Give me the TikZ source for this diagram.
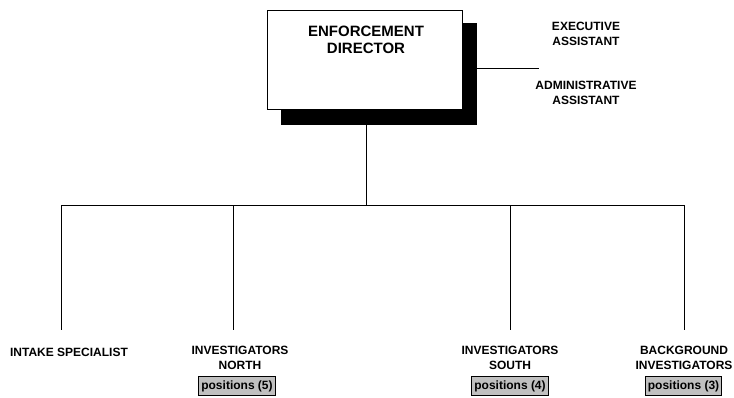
\documentclass[tikz,border=0pt]{standalone}
\usepackage{fontspec}
\setmainfont{Liberation Sans}
\definecolor{boxgray}{HTML}{C0C0C0}
\begin{document}
\begin{tikzpicture}[x=1pt,y=-1pt,
  conn/.style={draw=black,line width=0.8pt},
  lbl/.style={font=\bfseries\fontsize{12}{15}\selectfont,align=center,inner sep=0pt},
  posbox/.style={draw=black,line width=0.8pt,fill=boxgray,font=\bfseries\fontsize{12}{14}\selectfont,inner xsep=2.5pt,inner ysep=0pt,minimum height=19.5pt},
]
\useasboundingbox (0,0) rectangle (734,397);
% director with shadow
\node[fill=black,inner sep=0pt,minimum width=196pt,minimum height=102pt] (shadow) at (379,74) {};
\node[draw=black,line width=0.8pt,fill=white,inner sep=0pt,minimum width=195pt,minimum height=99pt] (director) at (365,59.5) {};
\node[font=\bfseries\fontsize{15}{17}\selectfont,align=center,inner sep=0pt] (dirtext) at (366,39.5) {ENFORCEMENT\\DIRECTOR};
% assistants
\node[lbl] (exec) at (586,33.5) {EXECUTIVE\\ASSISTANT};
\node[lbl] (admin) at (586,92.5) {ADMINISTRATIVE\\ASSISTANT};
\coordinate (asst) at (539,68);
\draw[conn] (shadow.east |- asst) -- (asst);
% bus
\coordinate (bus) at (366,205);
\coordinate (b1) at (61,205);
\coordinate (b2) at (233,205);
\coordinate (b3) at (510,205);
\coordinate (b4) at (684,205);
\draw[conn] (bus |- shadow.south) -- (bus);
\draw[conn] (b1) -- (b4);
% bottom labels
\node[lbl,anchor=north] (intake) at (69,347.7) {INTAKE SPECIALIST};
\node[lbl,anchor=north] (north) at (240,345.7) {INVESTIGATORS\\NORTH};
\node[lbl,anchor=north] (south) at (510,345.7) {INVESTIGATORS\\SOUTH};
\node[lbl,anchor=north] (backg) at (684,345.7) {BACKGROUND\\INVESTIGATORS};
\draw[conn,shorten >=17.7pt] (b1) -- (b1 |- intake.north);
\draw[conn,shorten >=15.7pt] (b2) -- (b2 |- north.north);
\draw[conn,shorten >=15.7pt] (b3) -- (b3 |- south.north);
\draw[conn,shorten >=15.7pt] (b4) -- (b4 |- backg.north);
% position boxes
\node[posbox] (p5) at (237,386) {positions (5)};
\node[posbox] (p4) at (510,386) {positions (4)};
\node[posbox] (p3) at (683.5,386) {positions (3)};
\end{tikzpicture}
\end{document}
